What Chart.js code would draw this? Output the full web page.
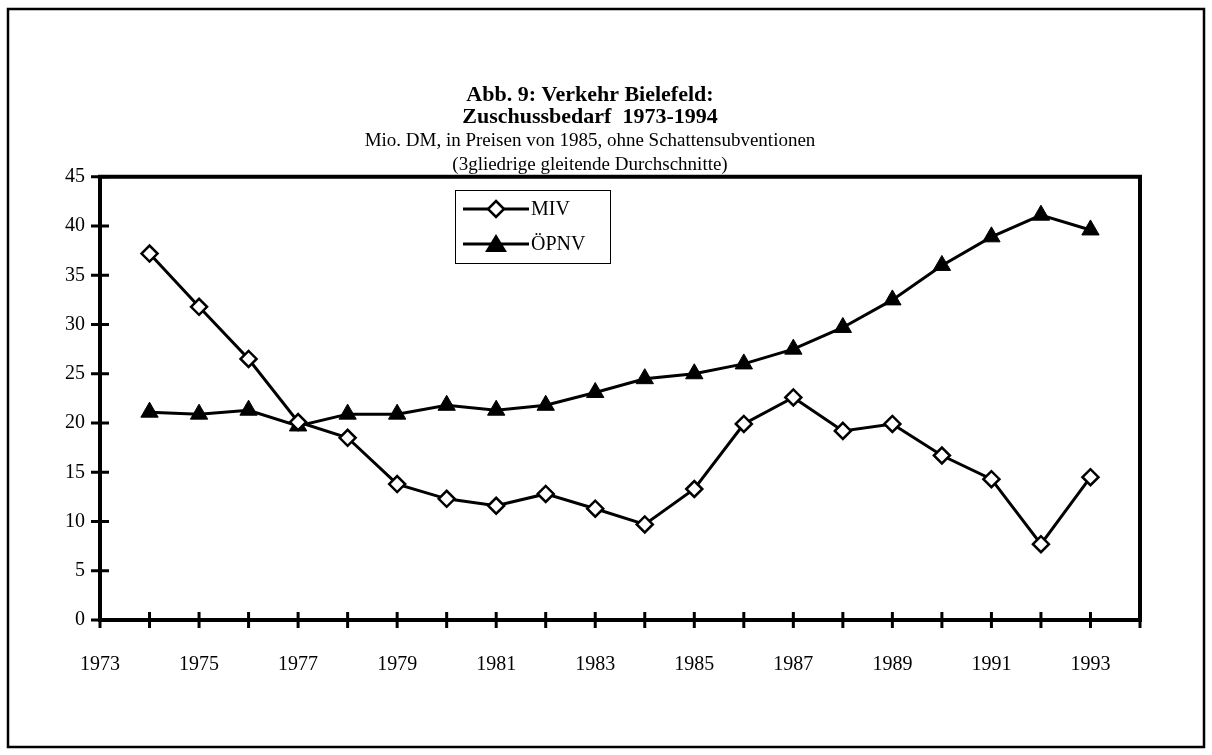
<!DOCTYPE html>
<html>
<head>
<meta charset="utf-8">
<script src="https://cdn.jsdelivr.net/npm/chart.js@4.4.1/dist/chart.umd.min.js"></script>
<style>
  body { margin: 0; background: #fff; }
  #wrap { width: 1212px; height: 755px; }
</style>
</head>
<body>
<div id="wrap"><canvas id="myLineChart"></canvas></div>
<script>
var years = [1974, 1975, 1976, 1977, 1978, 1979, 1980, 1981, 1982, 1983,
	1984, 1985, 1986, 1987, 1988, 1989, 1990, 1991, 1992, 1993];
var miv = [37.2, 31.8, 26.5, 20.1, 18.5, 13.8, 12.3, 11.6, 12.8, 11.3,
	9.7, 13.3, 19.9, 22.6, 19.2, 19.9, 16.7, 14.3, 7.7, 14.5];
var oepnv = [21.1, 20.9, 21.3, 19.7, 20.9, 20.9, 21.8, 21.3, 21.8, 23.1,
	24.5, 25.0, 26.0, 27.5, 29.7, 32.5, 36.0, 38.9, 41.1, 39.6];
var yearRange = [1973, 1994];
var yRange = [0, 45];

var serif = "'Liberation Serif', 'Times New Roman', serif";

function toPoints(vals) {
	return vals.map(function (v, i) { return { x: years[i], y: v }; });
}

// Excel-artige Achsen: Rahmen, durchkreuzende Teilstriche, Legende
var excelLook = {
	id: 'excelLook',
	afterDraw: function (chart) {
		var ctx = chart.ctx;
		var a = chart.chartArea;
		var x = chart.scales.x;
		var y = chart.scales.y;
		ctx.save();
		ctx.strokeStyle = '#000';

		// Plotbereich
		ctx.lineWidth = 4;
		ctx.strokeRect(a.left, a.top, a.right - a.left, a.bottom - a.top);

		// Teilstriche
		ctx.lineWidth = 3;
		ctx.beginPath();
		x.ticks.forEach(function (t) {
			var px = x.getPixelForValue(t.value);
			ctx.moveTo(px, a.bottom - 8);
			ctx.lineTo(px, a.bottom + 8);
		});
		y.ticks.forEach(function (t) {
			var py = y.getPixelForValue(t.value);
			ctx.moveTo(a.left - 9, py);
			ctx.lineTo(a.left + 9, py);
		});
		ctx.stroke();

		// Rahmen
		ctx.lineWidth = 2.5;
		ctx.strokeRect(8, 9, 1196, 738);

		// Legende
		var lx = 455, ly = 190, lw = 155, lh = 73;
		ctx.lineWidth = 1;
		ctx.strokeRect(lx + 0.5, ly + 0.5, lw, lh);
		ctx.font = '20px ' + serif;
		ctx.fillStyle = '#000';
		ctx.textBaseline = 'middle';
		chart.data.datasets.forEach(function (ds, i) {
			var cy = ly + 19 + i * 35;
			ctx.lineWidth = 3;
			ctx.beginPath();
			ctx.moveTo(lx + 8, cy);
			ctx.lineTo(lx + 74, cy);
			ctx.stroke();
			ctx.beginPath();
			if (ds.pointStyle === 'rectRot') {
				var r = 8;
				ctx.moveTo(lx + 41, cy - r);
				ctx.lineTo(lx + 41 + r, cy);
				ctx.lineTo(lx + 41, cy + r);
				ctx.lineTo(lx + 41 - r, cy);
				ctx.closePath();
				ctx.fillStyle = '#fff';
				ctx.fill();
				ctx.lineWidth = 2.5;
				ctx.stroke();
			} else {
				ctx.moveTo(lx + 41, cy - 10);
				ctx.lineTo(lx + 52, cy + 8);
				ctx.lineTo(lx + 30, cy + 8);
				ctx.closePath();
				ctx.fillStyle = '#000';
				ctx.fill();
			}
			ctx.fillStyle = '#000';
			ctx.fillText(ds.label, lx + 76, cy + 1);
		});
		ctx.restore();
	},
};

var ctx = document.getElementById('myLineChart');
var myLineChart = new Chart(ctx, {
	type: 'line',
	data: {
		datasets: [
			{
				label: 'MIV',
				data: toPoints(miv),
				borderColor: '#000',
				borderWidth: 3,
				pointStyle: 'rectRot',
				pointRadius: 8,
				pointBorderWidth: 2.5,
				pointBackgroundColor: '#fff',
				pointBorderColor: '#000',
				tension: 0,
			},
			{
				label: 'ÖPNV',
				data: toPoints(oepnv),
				borderColor: '#000',
				borderWidth: 3,
				pointStyle: 'triangle',
				pointRadius: 10,
				pointBorderWidth: 1,
				pointBackgroundColor: '#000',
				pointBorderColor: '#000',
				tension: 0,
			},
		],
	},
	options: {
		responsive: true,
		maintainAspectRatio: false,
		animation: false,
		layout: {
			padding: { top: 84, left: 40, right: 72, bottom: 85 },
		},
		plugins: {
			legend: { display: false },
			tooltip: { enabled: false },
			title: {
				display: true,
				text: ['Abb. 9: Verkehr Bielefeld:', 'Zuschussbedarf  1973-1994'],
				color: '#000',
				font: { family: serif, size: 22, weight: 'bold', lineHeight: 1.02 },
				padding: { top: 0, bottom: 0 },
			},
			subtitle: {
				display: true,
				text: ['Mio. DM, in Preisen von 1985, ohne Schattensubventionen', '(3gliedrige gleitende Durchschnitte)'],
				color: '#000',
				font: { family: serif, size: 19, lineHeight: 1.26 },
				padding: { top: 0, bottom: 0 },
			},
		},
		scales: {
			x: {
				type: 'linear',
				min: yearRange[0],
				max: yearRange[1],
				grid: { display: false, drawTicks: false },
				border: { display: false },
				afterFit: function (s) { s.height = 50; },
				ticks: {
					stepSize: 1,
					autoSkip: false,
					maxRotation: 0,
					padding: 33,
					color: '#000',
					font: { family: serif, size: 20 },
					callback: function (v) { return v % 2 === 1 ? String(v) : ''; },
				},
			},
			y: {
				min: yRange[0],
				max: yRange[1],
				grid: { display: false, drawTicks: false },
				border: { display: false },
				afterFit: function (s) { s.width = 60; },
				ticks: {
					stepSize: 5,
					padding: 15,
					color: '#000',
					font: { family: serif, size: 20 },
				},
			},
		},
	},
	plugins: [excelLook],
});
</script>
</body>
</html>
